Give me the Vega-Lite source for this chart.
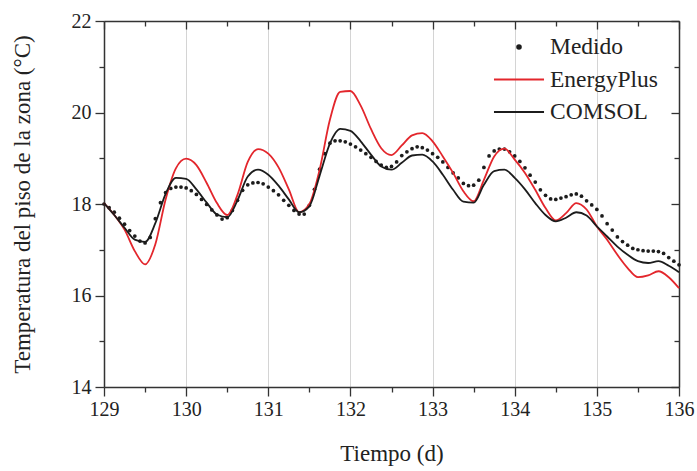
{
  "$schema": "https://vega.github.io/schema/vega-lite/v6.json",
  "width": 575,
  "height": 366,
  "autosize": {"type": "none"},
  "padding": {"left": 104, "top": 21, "right": 18, "bottom": 84},
  "background": "white",
  "config": {
    "view": {"stroke": null},
    "font": "Liberation Serif",
    "axis": {"labelFont": "Liberation Serif", "titleFont": "Liberation Serif", "labelColor": "#222", "titleColor": "#222", "titleFontWeight": "normal", "domainColor": "#333", "domainWidth": 1.5, "tickColor": "#333", "tickWidth": 1.3}
  },
  "data": {"values": [
    {"serie":"Medido","t":129.0,"temp":18.00},{"serie":"Medido","t":129.0625,"temp":17.92},{"serie":"Medido","t":129.125,"temp":17.82},{"serie":"Medido","t":129.1875,"temp":17.69},
    {"serie":"Medido","t":129.25,"temp":17.56},{"serie":"Medido","t":129.3125,"temp":17.42},{"serie":"Medido","t":129.375,"temp":17.30},{"serie":"Medido","t":129.4375,"temp":17.19},
    {"serie":"Medido","t":129.5,"temp":17.15},{"serie":"Medido","t":129.5625,"temp":17.27},{"serie":"Medido","t":129.625,"temp":17.68},{"serie":"Medido","t":129.6875,"temp":18.03},
    {"serie":"Medido","t":129.75,"temp":18.25},{"serie":"Medido","t":129.8125,"temp":18.34},{"serie":"Medido","t":129.875,"temp":18.37},{"serie":"Medido","t":129.9375,"temp":18.37},
    {"serie":"Medido","t":130.0,"temp":18.35},{"serie":"Medido","t":130.0625,"temp":18.29},{"serie":"Medido","t":130.125,"temp":18.21},{"serie":"Medido","t":130.1875,"temp":18.10},
    {"serie":"Medido","t":130.25,"temp":17.99},{"serie":"Medido","t":130.3125,"temp":17.87},{"serie":"Medido","t":130.375,"temp":17.76},{"serie":"Medido","t":130.4375,"temp":17.67},
    {"serie":"Medido","t":130.5,"temp":17.70},{"serie":"Medido","t":130.5625,"temp":17.86},{"serie":"Medido","t":130.625,"temp":18.08},{"serie":"Medido","t":130.6875,"temp":18.30},
    {"serie":"Medido","t":130.75,"temp":18.42},{"serie":"Medido","t":130.8125,"temp":18.46},{"serie":"Medido","t":130.875,"temp":18.47},{"serie":"Medido","t":130.9375,"temp":18.44},
    {"serie":"Medido","t":131.0,"temp":18.37},{"serie":"Medido","t":131.0625,"temp":18.29},{"serie":"Medido","t":131.125,"temp":18.20},{"serie":"Medido","t":131.1875,"temp":18.08},
    {"serie":"Medido","t":131.25,"temp":17.97},{"serie":"Medido","t":131.3125,"temp":17.86},{"serie":"Medido","t":131.375,"temp":17.78},{"serie":"Medido","t":131.4375,"temp":17.78},
    {"serie":"Medido","t":131.5,"temp":17.97},{"serie":"Medido","t":131.5625,"temp":18.32},{"serie":"Medido","t":131.625,"temp":18.76},{"serie":"Medido","t":131.6875,"temp":19.10},
    {"serie":"Medido","t":131.75,"temp":19.33},{"serie":"Medido","t":131.8125,"temp":19.38},{"serie":"Medido","t":131.875,"temp":19.38},{"serie":"Medido","t":131.9375,"temp":19.36},
    {"serie":"Medido","t":132.0,"temp":19.31},{"serie":"Medido","t":132.0625,"temp":19.25},{"serie":"Medido","t":132.125,"temp":19.18},{"serie":"Medido","t":132.1875,"temp":19.10},
    {"serie":"Medido","t":132.25,"temp":19.02},{"serie":"Medido","t":132.3125,"temp":18.93},{"serie":"Medido","t":132.375,"temp":18.85},{"serie":"Medido","t":132.4375,"temp":18.80},
    {"serie":"Medido","t":132.5,"temp":18.82},{"serie":"Medido","t":132.5625,"temp":18.92},{"serie":"Medido","t":132.625,"temp":19.06},{"serie":"Medido","t":132.6875,"temp":19.14},
    {"serie":"Medido","t":132.75,"temp":19.21},{"serie":"Medido","t":132.8125,"temp":19.25},{"serie":"Medido","t":132.875,"temp":19.23},{"serie":"Medido","t":132.9375,"temp":19.18},
    {"serie":"Medido","t":133.0,"temp":19.10},{"serie":"Medido","t":133.0625,"temp":19.02},{"serie":"Medido","t":133.125,"temp":18.92},{"serie":"Medido","t":133.1875,"temp":18.80},
    {"serie":"Medido","t":133.25,"temp":18.68},{"serie":"Medido","t":133.3125,"temp":18.57},{"serie":"Medido","t":133.375,"temp":18.45},{"serie":"Medido","t":133.4375,"temp":18.40},
    {"serie":"Medido","t":133.5,"temp":18.41},{"serie":"Medido","t":133.5625,"temp":18.52},{"serie":"Medido","t":133.625,"temp":18.80},{"serie":"Medido","t":133.6875,"temp":19.05},
    {"serie":"Medido","t":133.75,"temp":19.16},{"serie":"Medido","t":133.8125,"temp":19.20},{"serie":"Medido","t":133.875,"temp":19.20},{"serie":"Medido","t":133.9375,"temp":19.14},
    {"serie":"Medido","t":134.0,"temp":19.05},{"serie":"Medido","t":134.0625,"temp":18.93},{"serie":"Medido","t":134.125,"temp":18.79},{"serie":"Medido","t":134.1875,"temp":18.63},
    {"serie":"Medido","t":134.25,"temp":18.48},{"serie":"Medido","t":134.3125,"temp":18.31},{"serie":"Medido","t":134.375,"temp":18.19},{"serie":"Medido","t":134.4375,"temp":18.11},
    {"serie":"Medido","t":134.5,"temp":18.10},{"serie":"Medido","t":134.5625,"temp":18.13},{"serie":"Medido","t":134.625,"temp":18.16},{"serie":"Medido","t":134.6875,"temp":18.20},
    {"serie":"Medido","t":134.75,"temp":18.22},{"serie":"Medido","t":134.8125,"temp":18.17},{"serie":"Medido","t":134.875,"temp":18.07},{"serie":"Medido","t":134.9375,"temp":17.98},
    {"serie":"Medido","t":135.0,"temp":17.88},{"serie":"Medido","t":135.0625,"temp":17.74},{"serie":"Medido","t":135.125,"temp":17.57},{"serie":"Medido","t":135.1875,"temp":17.43},
    {"serie":"Medido","t":135.25,"temp":17.28},{"serie":"Medido","t":135.3125,"temp":17.18},{"serie":"Medido","t":135.375,"temp":17.10},{"serie":"Medido","t":135.4375,"temp":17.03},
    {"serie":"Medido","t":135.5,"temp":17.00},{"serie":"Medido","t":135.5625,"temp":16.98},{"serie":"Medido","t":135.625,"temp":16.97},{"serie":"Medido","t":135.6875,"temp":16.97},
    {"serie":"Medido","t":135.75,"temp":16.96},{"serie":"Medido","t":135.8125,"temp":16.92},{"serie":"Medido","t":135.875,"temp":16.83},{"serie":"Medido","t":135.9375,"temp":16.75},
    {"serie":"Medido","t":136.0,"temp":16.67},
    {"serie":"EnergyPlus","t":129.0,"temp":18.02},{"serie":"EnergyPlus","t":129.125,"temp":17.76},{"serie":"EnergyPlus","t":129.25,"temp":17.44},{"serie":"EnergyPlus","t":129.375,"temp":16.97},
    {"serie":"EnergyPlus","t":129.5,"temp":16.68},{"serie":"EnergyPlus","t":129.625,"temp":17.12},{"serie":"EnergyPlus","t":129.75,"temp":18.10},{"serie":"EnergyPlus","t":129.875,"temp":18.78},
    {"serie":"EnergyPlus","t":130.0,"temp":18.99},{"serie":"EnergyPlus","t":130.125,"temp":18.85},{"serie":"EnergyPlus","t":130.25,"temp":18.46},{"serie":"EnergyPlus","t":130.375,"temp":18.02},
    {"serie":"EnergyPlus","t":130.5,"temp":17.76},{"serie":"EnergyPlus","t":130.625,"temp":18.20},{"serie":"EnergyPlus","t":130.75,"temp":18.92},{"serie":"EnergyPlus","t":130.875,"temp":19.20},
    {"serie":"EnergyPlus","t":131.0,"temp":19.10},{"serie":"EnergyPlus","t":131.125,"temp":18.80},{"serie":"EnergyPlus","t":131.25,"temp":18.32},{"serie":"EnergyPlus","t":131.375,"temp":17.82},
    {"serie":"EnergyPlus","t":131.5,"temp":18.00},{"serie":"EnergyPlus","t":131.625,"temp":18.75},{"serie":"EnergyPlus","t":131.75,"temp":19.84},{"serie":"EnergyPlus","t":131.875,"temp":20.45},
    {"serie":"EnergyPlus","t":132.0,"temp":20.47},{"serie":"EnergyPlus","t":132.125,"temp":20.15},{"serie":"EnergyPlus","t":132.25,"temp":19.64},{"serie":"EnergyPlus","t":132.375,"temp":19.22},
    {"serie":"EnergyPlus","t":132.5,"temp":19.07},{"serie":"EnergyPlus","t":132.625,"temp":19.28},{"serie":"EnergyPlus","t":132.75,"temp":19.50},{"serie":"EnergyPlus","t":132.875,"temp":19.55},
    {"serie":"EnergyPlus","t":133.0,"temp":19.37},{"serie":"EnergyPlus","t":133.125,"temp":19.04},{"serie":"EnergyPlus","t":133.25,"temp":18.68},{"serie":"EnergyPlus","t":133.375,"temp":18.28},
    {"serie":"EnergyPlus","t":133.5,"temp":18.06},{"serie":"EnergyPlus","t":133.625,"temp":18.53},{"serie":"EnergyPlus","t":133.75,"temp":19.04},{"serie":"EnergyPlus","t":133.875,"temp":19.21},
    {"serie":"EnergyPlus","t":134.0,"temp":18.97},{"serie":"EnergyPlus","t":134.125,"temp":18.68},{"serie":"EnergyPlus","t":134.25,"temp":18.31},{"serie":"EnergyPlus","t":134.375,"temp":17.91},
    {"serie":"EnergyPlus","t":134.5,"temp":17.64},{"serie":"EnergyPlus","t":134.625,"temp":17.80},{"serie":"EnergyPlus","t":134.75,"temp":18.02},{"serie":"EnergyPlus","t":134.875,"temp":17.88},
    {"serie":"EnergyPlus","t":135.0,"temp":17.51},{"serie":"EnergyPlus","t":135.125,"temp":17.22},{"serie":"EnergyPlus","t":135.25,"temp":16.89},{"serie":"EnergyPlus","t":135.375,"temp":16.60},
    {"serie":"EnergyPlus","t":135.5,"temp":16.40},{"serie":"EnergyPlus","t":135.625,"temp":16.44},{"serie":"EnergyPlus","t":135.75,"temp":16.53},{"serie":"EnergyPlus","t":135.875,"temp":16.40},
    {"serie":"EnergyPlus","t":136.0,"temp":16.16},
    {"serie":"COMSOL","t":129.0,"temp":18.02},{"serie":"COMSOL","t":129.125,"temp":17.76},{"serie":"COMSOL","t":129.25,"temp":17.48},{"serie":"COMSOL","t":129.375,"temp":17.22},
    {"serie":"COMSOL","t":129.5,"temp":17.17},{"serie":"COMSOL","t":129.625,"temp":17.58},{"serie":"COMSOL","t":129.75,"temp":18.22},{"serie":"COMSOL","t":129.875,"temp":18.57},
    {"serie":"COMSOL","t":130.0,"temp":18.55},{"serie":"COMSOL","t":130.125,"temp":18.32},{"serie":"COMSOL","t":130.25,"temp":18.03},{"serie":"COMSOL","t":130.375,"temp":17.77},
    {"serie":"COMSOL","t":130.5,"temp":17.71},{"serie":"COMSOL","t":130.625,"temp":18.08},{"serie":"COMSOL","t":130.75,"temp":18.60},{"serie":"COMSOL","t":130.875,"temp":18.75},
    {"serie":"COMSOL","t":131.0,"temp":18.64},{"serie":"COMSOL","t":131.125,"temp":18.40},{"serie":"COMSOL","t":131.25,"temp":18.10},{"serie":"COMSOL","t":131.375,"temp":17.82},
    {"serie":"COMSOL","t":131.5,"temp":17.95},{"serie":"COMSOL","t":131.625,"temp":18.62},{"serie":"COMSOL","t":131.75,"temp":19.32},{"serie":"COMSOL","t":131.875,"temp":19.64},
    {"serie":"COMSOL","t":132.0,"temp":19.60},{"serie":"COMSOL","t":132.125,"temp":19.37},{"serie":"COMSOL","t":132.25,"temp":19.08},{"serie":"COMSOL","t":132.375,"temp":18.82},
    {"serie":"COMSOL","t":132.5,"temp":18.75},{"serie":"COMSOL","t":132.625,"temp":18.90},{"serie":"COMSOL","t":132.75,"temp":19.06},{"serie":"COMSOL","t":132.875,"temp":19.08},
    {"serie":"COMSOL","t":133.0,"temp":18.93},{"serie":"COMSOL","t":133.125,"temp":18.64},{"serie":"COMSOL","t":133.25,"temp":18.31},{"serie":"COMSOL","t":133.375,"temp":18.05},
    {"serie":"COMSOL","t":133.5,"temp":18.03},{"serie":"COMSOL","t":133.625,"temp":18.42},{"serie":"COMSOL","t":133.75,"temp":18.72},{"serie":"COMSOL","t":133.875,"temp":18.75},
    {"serie":"COMSOL","t":134.0,"temp":18.57},{"serie":"COMSOL","t":134.125,"temp":18.32},{"serie":"COMSOL","t":134.25,"temp":18.02},{"serie":"COMSOL","t":134.375,"temp":17.76},
    {"serie":"COMSOL","t":134.5,"temp":17.62},{"serie":"COMSOL","t":134.625,"temp":17.70},{"serie":"COMSOL","t":134.75,"temp":17.82},{"serie":"COMSOL","t":134.875,"temp":17.75},
    {"serie":"COMSOL","t":135.0,"temp":17.51},{"serie":"COMSOL","t":135.125,"temp":17.29},{"serie":"COMSOL","t":135.25,"temp":17.07},{"serie":"COMSOL","t":135.375,"temp":16.89},
    {"serie":"COMSOL","t":135.5,"temp":16.75},{"serie":"COMSOL","t":135.625,"temp":16.71},{"serie":"COMSOL","t":135.75,"temp":16.75},{"serie":"COMSOL","t":135.875,"temp":16.65},
    {"serie":"COMSOL","t":136.0,"temp":16.51}
  ]},
  "resolve": {"axis": {"x": "independent", "y": "independent"}},
  "layer": [
    {
      "transform": [{"filter": "datum.serie === 'Medido'"}],
      "mark": {"type": "point", "filled": true, "size": 14, "opacity": 1},
      "encoding": {
        "x": {"field": "t", "type": "quantitative", "scale": {"domain": [129, 136], "nice": false, "zero": false},
          "axis": {"orient": "bottom", "title": "Tiempo (d)", "titleFontSize": 23, "titleY": 66, "titleBaseline": "middle",
            "values": [129,129.5,130,130.5,131,131.5,132,132.5,133,133.5,134,134.5,135,135.5,136],
            "labelExpr": "datum.value % 1 === 0 ? format(datum.value, 'd') : ''", "labelFontSize": 20, "labelPadding": 3, "labelFlush": false,
            "tickSize": {"condition": {"test": "datum.value % 1 !== 0", "value": 5}, "value": 9},
            "grid": true, "gridColor": "#d4d4d4", "gridWidth": 1,
            "gridOpacity": {"condition": {"test": "datum.value % 1 !== 0 || datum.value === 129 || datum.value === 136", "value": 0}, "value": 1}}},
        "y": {"field": "temp", "type": "quantitative", "scale": {"domain": [14, 22], "nice": false, "zero": false},
          "axis": {"orient": "left", "title": "Temperatura del piso de la zona (°C)", "titleFontSize": 23, "titleX": -82, "titleY": 183, "titleAngle": 270, "titleBaseline": "middle", "titleAlign": "center",
            "values": [14,15,16,17,18,19,20,21,22],
            "labelExpr": "datum.value % 2 === 0 ? format(datum.value, 'd') : ''", "labelFontSize": 20, "labelPadding": 4, "labelFlush": false,
            "tickSize": {"condition": {"test": "datum.value % 2 !== 0", "value": 5}, "value": 9},
            "grid": false}},
        "color": {"field": "serie", "type": "nominal",
          "scale": {"domain": ["Medido", "EnergyPlus", "COMSOL"], "range": ["#1c1c1c", "#e3262c", "#1c1c1c"]},
          "legend": {"title": null, "orient": "none", "legendX": 396, "legendY": 7, "padding": 0,
            "labelFont": "Liberation Serif", "labelFontSize": 23.5, "labelColor": "#222", "labelOffset": 12,
            "symbolType": {"expr": "datum.value === 'Medido' ? 'M-0.1,0A0.1,0.1,0,1,0,0.1,0A0.1,0.1,0,1,0,-0.1,0Z' : 'M-1.39,0H1.39'"},
            "symbolFillColor": {"expr": "datum.value === 'Medido' ? '#1c1c1c' : 'transparent'"},
            "symbolSize": 1296, "symbolStrokeWidth": 2, "symbolOpacity": 1, "rowPadding": 1.5}}
      }
    },
    {
      "transform": [{"filter": "datum.serie !== 'Medido'"}],
      "mark": {"type": "line", "strokeWidth": 1.8, "interpolate": "monotone"},
      "encoding": {
        "x": {"field": "t", "type": "quantitative",
          "axis": {"orient": "top", "title": null, "labels": false, "grid": false,
            "values": [129,129.5,130,130.5,131,131.5,132,132.5,133,133.5,134,134.5,135,135.5,136],
            "tickSize": {"condition": {"test": "datum.value % 1 !== 0", "value": -5}, "value": -8}}},
        "y": {"field": "temp", "type": "quantitative",
          "axis": {"orient": "right", "title": null, "labels": false, "grid": false,
            "values": [14,15,16,17,18,19,20,21,22],
            "tickSize": {"condition": {"test": "datum.value % 2 !== 0", "value": -5}, "value": -8}}},
        "color": {"field": "serie", "type": "nominal"}
      }
    }
  ]
}
